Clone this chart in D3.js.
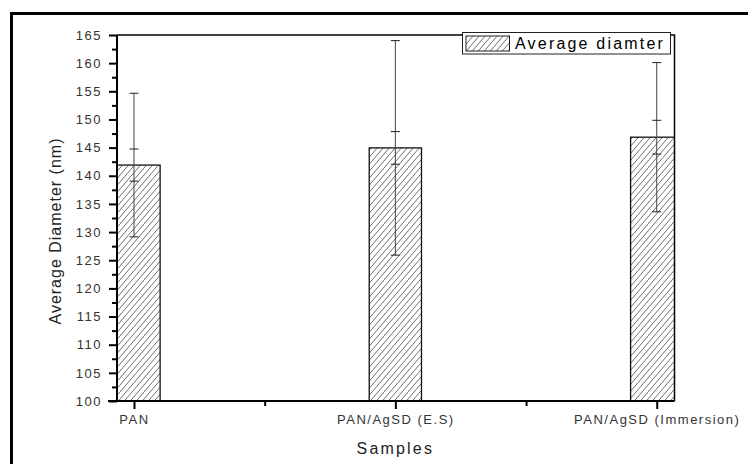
<!DOCTYPE html>
<html>
<head>
<meta charset="utf-8">
<script src="https://cdn.jsdelivr.net/npm/d3@7"></script>
<style>
  html, body { margin: 0; padding: 0; background: #fff; }
  svg { display: block; font-family: "Liberation Sans", Arial, sans-serif; }
</style>
</head>
<body>
<svg id="chart" width="748" height="464"></svg>
<script>
// Sample categories and measured fibre diameters (nm)
const categories = ["PAN", "PAN/AgSD (E.S)", "PAN/AgSD (Immersion)"];
const means = [141.9, 144.95, 146.85];
const sd = [12.75, 19.05, 13.25];     // outer error bars
const se = [2.85, 2.9, 3.0];          // inner error bars
const yTicks = [100, 105, 110, 115, 120, 125, 130, 135, 140, 145, 150, 155, 160, 165];
const legendLabel = "Average diamter";

const svg = d3.select("#chart");
const plotL = 117, plotR = 674.5, plotT = 35, plotB = 401;

// category positions sit at 1, 2, 3 on a continuous axis
const x = d3.scaleLinear().domain([0.935, 3.068]).range([plotL, plotR]);
const y = d3.scaleLinear().domain([100, 165]).range([plotB, plotT]);
const barW = x(1.1) - x(0.9);

// hatch pattern for bars
const defs = svg.append("defs");
const pat = defs.append("pattern")
  .attr("id", "hatch").attr("patternUnits", "userSpaceOnUse")
  .attr("width", 6).attr("height", 7);
pat.append("rect").attr("width", 6).attr("height", 7).attr("fill", "#fff");
pat.append("path").attr("d", "M-1,1.17 l2,-2.33 M0,7 l6,-7 M5,8.17 l2,-2.33")
  .attr("stroke", "#555").attr("stroke-width", 0.85);
defs.append("clipPath").attr("id", "plotclip")
  .append("rect").attr("x", plotL).attr("y", plotT - 2)
  .attr("width", plotR - plotL).attr("height", plotB - plotT + 2);

// outer frame
svg.append("path").attr("d", "M11.5,470 V13.5 H760")
  .attr("fill", "none").attr("stroke", "#000").attr("stroke-width", 3);

// bars
const g = svg.append("g").attr("clip-path", "url(#plotclip)");
g.selectAll("rect.bar").data(means).join("rect")
  .attr("class", "bar")
  .attr("x", (d, i) => x(i + 1) - barW / 2)
  .attr("y", d => y(d))
  .attr("width", barW)
  .attr("height", d => y(100) - y(d))
  .attr("fill", "url(#hatch)")
  .attr("stroke", "#111").attr("stroke-width", 1.3);

// error bars
const eb = svg.append("g").attr("stroke", "#444").attr("stroke-width", 1);
means.forEach((m, i) => {
  const cx = x(i + 1);
  eb.append("line").attr("x1", cx).attr("x2", cx)
    .attr("y1", y(m + sd[i])).attr("y2", y(m - sd[i]));
  [m + sd[i], m - sd[i], m + se[i], m - se[i]].forEach(v => {
    eb.append("line").attr("x1", cx - 4.5).attr("x2", cx + 4.5)
      .attr("y1", y(v)).attr("y2", y(v)).attr("stroke", "#222");
  });
});

// plot border (top and right)
svg.append("path").attr("d", `M${plotL},${plotT} H${plotR} V${plotB}`)
  .attr("fill", "none").attr("stroke", "#000").attr("stroke-width", 1.5);

// y axis
const yAxis = svg.append("g").attr("transform", `translate(${plotL},0)`)
  .call(d3.axisLeft(y).tickValues(yTicks).tickSize(8).tickPadding(7).tickFormat(d3.format("d")));
svg.append("g").attr("transform", `translate(${plotL},0)`)
  .call(d3.axisLeft(y).tickValues(yTicks.slice(0, -1).map(v => v + 2.5)).tickSize(5).tickFormat(""))
  .call(a => a.select(".domain").remove());

// x axis
const xAxis = svg.append("g").attr("transform", `translate(0,${plotB})`)
  .call(d3.axisBottom(x).tickValues([1, 2, 3]).tickSize(8).tickPadding(6)
    .tickFormat((d, i) => categories[i]));
svg.append("g").attr("transform", `translate(0,${plotB})`)
  .call(d3.axisBottom(x).tickValues([1.5, 2.5]).tickSize(5).tickFormat(""))
  .call(a => a.select(".domain").remove());

svg.selectAll(".tick line").attr("stroke", "#000").attr("stroke-width", 2);
svg.selectAll(".domain").attr("stroke", "#000").attr("stroke-width", 2);
[yAxis, xAxis].forEach(a => a.selectAll(".tick text")
  .attr("font-family", "'Liberation Sans', Arial, sans-serif")
  .attr("font-size", 13).attr("fill", "#333").style("letter-spacing", "1.5px"));
yAxis.selectAll(".domain").attr("d", `M0,${plotB + 1} V${plotT}`);
xAxis.selectAll(".domain").attr("d", `M${plotL - 9},0 H${plotR}`);

// axis titles
svg.append("text")
  .attr("transform", `translate(61,231) rotate(-90)`)
  .attr("text-anchor", "middle").attr("font-size", 16).attr("fill", "#222")
  .style("letter-spacing", "1px")
  .text("Average Diameter (nm)");
svg.append("text")
  .attr("x", x(2)).attr("y", 454)
  .attr("text-anchor", "middle").attr("font-size", 16).attr("fill", "#222")
  .style("letter-spacing", "2.2px")
  .text("Samples");

// legend
const lg = svg.append("g");
lg.append("rect").attr("x", 462.5).attr("y", 32.5).attr("width", 208).attr("height", 21.5)
  .attr("fill", "#fff").attr("stroke", "#222").attr("stroke-width", 1);
lg.append("rect").attr("x", 466).attr("y", 36).attr("width", 43.5).attr("height", 15)
  .attr("fill", "url(#hatch)").attr("stroke", "#222").attr("stroke-width", 1);
lg.append("text").attr("x", 515).attr("y", 49)
  .attr("font-size", 16).attr("fill", "#000").style("letter-spacing", "2.2px")
  .text(legendLabel);
</script>
</body>
</html>
